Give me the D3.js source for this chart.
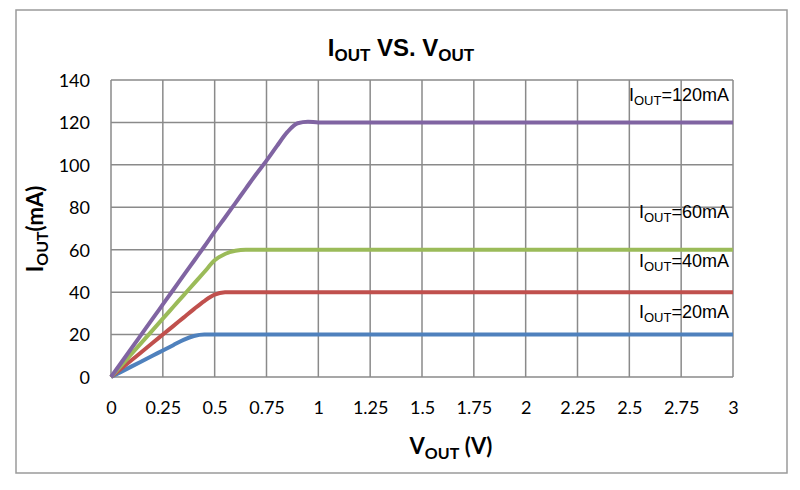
<!DOCTYPE html>
<html><head><meta charset="utf-8">
<script src="https://cdn.jsdelivr.net/npm/d3@7"></script>
<style>body{margin:0;background:#fff}svg{display:block}</style>
</head><body>
<svg id="c" width="800" height="490"></svg>
<script>
// ---- data ----
const vout   = [0, 0.1, 0.2, 0.25, 0.3, 0.35, 0.4, 0.45, 0.5, 0.55, 0.6, 0.65, 0.7, 0.75, 0.8, 0.85, 0.9, 0.95, 1, 1.25, 1.5, 1.75, 2, 2.25, 2.5, 2.75, 3];
const i20mA  = [0, 5, 10, 12.5, 15, 17.5, 19.3, 20, 20, 20, 20, 20, 20, 20, 20, 20, 20, 20, 20, 20, 20, 20, 20, 20, 20, 20, 20];
const i40mA  = [0, 8, 16, 20, 24, 28, 32, 35.8, 38.8, 39.9, 40, 40, 40, 40, 40, 40, 40, 40, 40, 40, 40, 40, 40, 40, 40, 40, 40];
const i60mA  = [0, 11, 22, 27.5, 33, 38.5, 44, 49.5, 55, 58, 59.5, 60, 60, 60, 60, 60, 60, 60, 60, 60, 60, 60, 60, 60, 60, 60, 60];
const i120mA = [0, 13.7, 27.4, 34.2, 41, 47.9, 54.7, 61.5, 68.5, 75.2, 82, 88.8, 95.6, 102, 108.8, 115.4, 119.6, 120.3, 120, 120, 120, 120, 120, 120, 120, 120, 120];
const xTicks = [0, 0.25, 0.5, 0.75, 1, 1.25, 1.5, 1.75, 2, 2.25, 2.5, 2.75, 3];
const yTicks = [0, 20, 40, 60, 80, 100, 120, 140];
const seriesNames = ["20mA", "40mA", "60mA", "120mA"];
const seriesColors = ["#4F81BD", "#C0504D", "#9BBB59", "#8064A2"];
const seriesData = [i20mA, i40mA, i60mA, i120mA];

const svg = d3.select("#c");
const L = 111, R = 733, T = 80, B = 377;
const x = d3.scaleLinear().domain([0, 3]).range([L, R]);
const y = d3.scaleLinear().domain([0, 140]).range([B, T]);

// outer border
svg.append("rect").attr("x", 16).attr("y", 10).attr("width", 771).attr("height", 463)
  .attr("fill", "#fff").attr("stroke", "#9a9a9a").attr("stroke-width", 1.5);

// grid
const grid = svg.append("g");
grid.selectAll("line.v").data(xTicks).join("line")
  .attr("x1", d => x(d)).attr("x2", d => x(d)).attr("y1", T).attr("y2", B)
  .attr("stroke", "#8a8a8a").attr("stroke-width", 1.5);
grid.selectAll("line.h").data(yTicks).join("line")
  .attr("y1", d => y(d)).attr("y2", d => y(d)).attr("x1", L).attr("x2", R)
  .attr("stroke", "#8a8a8a").attr("stroke-width", 1.5);

// axes labels via d3 axes
const xAxis = d3.axisBottom(x).tickValues(xTicks).tickSize(0).tickPadding(0).tickFormat(d => String(d));
const gx = svg.append("g").attr("transform", `translate(0,${B})`).call(xAxis);
gx.select(".domain").remove();
gx.selectAll("text").attr("dy", 0).attr("y", 37).attr("fill", "#000")
  .style("font-family", "Lato, 'Open Sans', sans-serif").style("font-size", "18px");

const yAxis = d3.axisLeft(y).tickValues(yTicks).tickSize(0).tickPadding(0);
const gy = svg.append("g").attr("transform", `translate(${L},0)`).call(yAxis);
gy.select(".domain").remove();
gy.selectAll("text").attr("x", -21).attr("dy", "0.35em").attr("fill", "#000")
  .style("font-family", "Lato, 'Open Sans', sans-serif").style("font-size", "18px");

// lines
const line = d3.line().x((d, i) => x(vout[i])).y(d => y(d)).curve(d3.curveMonotoneX);
seriesData.forEach((s, k) => {
  svg.append("path").datum(s).attr("d", line).attr("fill", "none")
    .attr("stroke", seriesColors[k]).attr("stroke-width", 4).attr("stroke-linejoin", "round");
});

// series labels
const labelY = [318, 267, 218, 101];
seriesNames.forEach((n, k) => {
  const t = svg.append("text").attr("x", 729).attr("y", labelY[k]).attr("text-anchor", "end")
    .style("font-family", "'Liberation Sans', Arial, sans-serif").style("font-size", "18px").attr("fill", "#000");
  t.append("tspan").text("I");
  t.append("tspan").attr("dy", 4).style("font-size", "13px").text("OUT");
  t.append("tspan").attr("dy", -4).text("=" + n);
});

// title
const title = svg.append("text").attr("x", 401).attr("y", 56).attr("text-anchor", "middle")
  .style("font-family", "'Liberation Sans', Arial, sans-serif").style("font-weight", "bold").style("font-size", "24px");
title.append("tspan").text("I");
title.append("tspan").attr("dy", 5).style("font-size", "17px").text("OUT");
title.append("tspan").attr("dy", -5).text(" VS. V");
title.append("tspan").attr("dy", 5).style("font-size", "17px").text("OUT");

// x axis title
const xt = svg.append("text").attr("x", 451).attr("y", 454).attr("text-anchor", "middle")
  .style("font-family", "Lato, 'Open Sans', sans-serif").style("font-weight", "bold").style("font-size", "22px");
xt.append("tspan").text("V");
xt.append("tspan").attr("dy", 5).style("font-size", "16px").text("OUT");
xt.append("tspan").attr("dy", -5).text(" (V)");

// y axis title
const yt = svg.append("text").attr("transform", "translate(43,229) rotate(-90)").attr("text-anchor", "middle")
  .style("font-family", "Lato, 'Open Sans', sans-serif").style("font-weight", "bold").style("font-size", "22px");
yt.append("tspan").text("I");
yt.append("tspan").attr("dy", 5).style("font-size", "16px").text("OUT");
yt.append("tspan").attr("dy", -5).text("(mA)");
</script>
</body></html>
